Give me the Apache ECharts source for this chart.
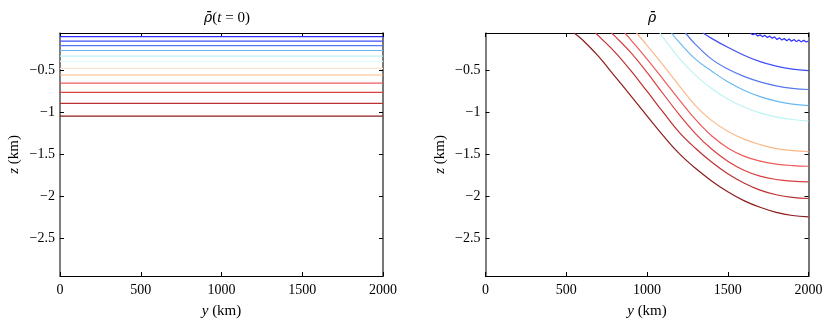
<!DOCTYPE html>
<html lang="en">

<head>
    <meta charset="UTF-8">
    <script src="https://cdn.jsdelivr.net/npm/echarts@6/dist/echarts.min.js"></script>
    <title>rho</title>
</head>

<body style="margin:0">
    <div id="main" style="height: 324px;width: 830px;"></div>

    <script>
        // tick labels
        var yTicks = [0, 500, 1000, 1500, 2000];
        var zTicks = [-2.5, -2, -1.5, -1, -0.5];

        // left panel: initial isopycnal depths (km)
        var levels0 = [-0.094, -0.146, -0.200, -0.259, -0.327, -0.389, -0.472, -0.551, -0.649, -0.759, -0.889, -1.042];

        // colours, top (light) to bottom (dense)
        var colors = ['#2f2fff', '#3f4ff5', '#5577f0', '#6ab8f0', '#bdf3f3', '#e6f9f9',
            '#fbe4d4', '#fbb98a', '#ee5a5a', '#d94040', '#bb3030', '#8c1d1d'];

        // right panel: [y (km), z (km)]
        var blue1 = [[1640, -0.052], [1655, -0.070], [1670, -0.058], [1685, -0.086], [1700, -0.072], [1715, -0.095],
            [1730, -0.078], [1745, -0.103], [1760, -0.087], [1775, -0.112], [1790, -0.096], [1805, -0.128],
            [1820, -0.108], [1835, -0.134], [1850, -0.115], [1865, -0.142], [1880, -0.122], [1895, -0.148],
            [1910, -0.128], [1925, -0.153], [1940, -0.133], [1955, -0.156], [1970, -0.136], [1985, -0.157], [2000, -0.145]];
        var blue2 = [[1347, -0.05], [1400, -0.114], [1500, -0.221], [1600, -0.315], [1700, -0.392], [1800, -0.445], [1900, -0.481], [2000, -0.498]];
        var blue3 = [[1238, -0.05], [1300, -0.185], [1400, -0.362], [1500, -0.480], [1600, -0.568], [1700, -0.633], [1800, -0.680], [1900, -0.710], [2000, -0.724]];
        var lightBlue = [[1152, -0.05], [1200, -0.162], [1300, -0.362], [1400, -0.504], [1500, -0.633], [1600, -0.734], [1700, -0.810], [1800, -0.863], [1900, -0.899], [2000, -0.916]];
        var paleCyan = [[1080, -0.05], [1100, -0.103], [1200, -0.353], [1300, -0.553], [1400, -0.713], [1500, -0.838], [1600, -0.933], [1700, -1.003], [1800, -1.05], [1900, -1.082], [2000, -1.101]];
        var orange = [[935, -0.05], [1000, -0.197], [1100, -0.433], [1200, -0.680], [1300, -0.916], [1400, -1.093], [1500, -1.223], [1600, -1.317], [1700, -1.382], [1800, -1.429], [1900, -1.453], [2000, -1.465]];
        var red1 = [[863, -0.05], [900, -0.132], [1000, -0.362], [1100, -0.602], [1200, -0.847], [1300, -1.082], [1400, -1.277], [1500, -1.422], [1600, -1.519], [1700, -1.579], [1800, -1.614], [1900, -1.632], [2000, -1.64]];
        var red2 = [[781, -0.05], [800, -0.085], [900, -0.285], [1000, -0.52], [1100, -0.775], [1200, -1.025], [1300, -1.25], [1400, -1.435], [1500, -1.58], [1600, -1.688], [1700, -1.758], [1800, -1.798], [1900, -1.818], [2000, -1.826]];
        var red3 = [[682, -0.05], [700, -0.085], [800, -0.275], [900, -0.50], [1000, -0.745], [1100, -0.995], [1200, -1.235], [1300, -1.425], [1400, -1.59], [1500, -1.73], [1600, -1.84], [1700, -1.925], [1800, -1.98], [1900, -2.012], [2000, -2.025]];
        var red4 = [[548, -0.05], [600, -0.13], [700, -0.33], [800, -0.565], [900, -0.80], [1000, -1.04], [1100, -1.275], [1200, -1.49], [1300, -1.665], [1400, -1.815], [1500, -1.945], [1600, -2.05], [1700, -2.13], [1800, -2.19], [1900, -2.228], [2000, -2.245]];

        var curves = [
            { data: blue1, color: colors[0], smooth: false },
            { data: blue2, color: colors[1] },
            { data: blue3, color: colors[2] },
            { data: lightBlue, color: colors[3] },
            { data: paleCyan, color: colors[4] },
            { data: orange, color: colors[7] },
            { data: red1, color: colors[8] },
            { data: red2, color: colors[9] },
            { data: red3, color: colors[10] },
            { data: red4, color: colors[11] }
        ];

        var font = 'Liberation Serif';
        var minus = function (v) { return String(v).replace('-', '\u2212'); };
        var plain = function (v) { return String(v); };
        var italic = { fontStyle: 'italic', fontFamily: font, fontSize: 15, color: '#000' };

        function xAxes(gi) {
            return [{
                gridIndex: gi, type: 'value', min: 0, max: 2000, interval: 500, position: 'bottom',
                axisLine: { onZero: false, lineStyle: { color: '#000', width: 1 } },
                axisTick: { inside: true, length: 4, lineStyle: { color: '#000' } },
                axisLabel: { color: '#000', fontFamily: font, fontSize: 14, margin: 7, formatter: plain },
                splitLine: { show: false },
                name: '{i|y} (km)', nameLocation: 'middle', nameGap: 28,
                nameTextStyle: { color: '#000', fontFamily: font, fontSize: 15, rich: { i: italic } }
            }, {
                gridIndex: gi, type: 'value', min: 0, max: 2000, interval: 500, position: 'top',
                axisLine: { onZero: false, lineStyle: { color: '#000', width: 1 } },
                axisTick: { inside: true, length: 4, lineStyle: { color: '#000' } },
                axisLabel: { show: false }, splitLine: { show: false }
            }];
        }

        function yAxes(gi) {
            return [{
                gridIndex: gi, type: 'value', min: -2.95, max: -0.05, position: 'left',
                axisLine: { onZero: false, lineStyle: { color: '#555', width: 1.5 } },
                axisTick: { inside: true, length: 4, customValues: zTicks, lineStyle: { color: '#000' } },
                axisLabel: { color: '#000', fontFamily: font, fontSize: 14, margin: 5, customValues: zTicks, formatter: minus },
                splitLine: { show: false },
                name: '{i|z} (km)', nameLocation: 'middle', nameGap: 38, nameRotate: 90,
                nameTextStyle: { color: '#000', fontFamily: font, fontSize: 15, rich: { i: italic } }
            }, {
                gridIndex: gi, type: 'value', min: -2.95, max: -0.05, position: 'right',
                axisLine: { onZero: false, lineStyle: { color: '#777', width: 2 } },
                axisTick: { inside: true, length: 4, customValues: zTicks, lineStyle: { color: '#000' } },
                axisLabel: { show: false }, splitLine: { show: false }
            }];
        }

        var series = [];
        levels0.forEach(function (z, i) {
            series.push({
                type: 'line', xAxisIndex: 0, yAxisIndex: 0, showSymbol: false, silent: true,
                data: [[yTicks[0], z], [yTicks[yTicks.length - 1], z]],
                lineStyle: { color: colors[i], width: 1.2 }
            });
        });
        curves.forEach(function (c) {
            series.push({
                type: 'line', xAxisIndex: 2, yAxisIndex: 2, showSymbol: false, silent: true,
                smooth: c.smooth === false ? false : 0.4,
                data: c.data,
                lineStyle: { color: c.color, width: 1.2 }
            });
        });

        var chartDom = document.getElementById('main');
        var myChart = echarts.init(chartDom);
        var rho = { fontStyle: 'italic', fontFamily: 'DejaVu Serif', fontSize: 14, color: '#000' };
        var titleStyle = {
            color: '#000', fontFamily: font, fontSize: 15, fontWeight: 'normal',
            rich: { r: rho, i: italic }
        };
        var option = {
            animation: false,
            title: [
                { text: '{r|\u03c1\u0304}({i|t} = 0)', left: 222, top: 6, textAlign: 'center', textStyle: titleStyle },
                { text: '{r|\u03c1\u0304}', left: 647, top: 6, textAlign: 'center', textStyle: titleStyle }
            ],
            grid: [
                { left: 60, right: 447, top: 33, bottom: 46 },
                { left: 485.5, right: 21.5, top: 33, bottom: 46 }
            ],
            xAxis: xAxes(0).concat(xAxes(1)),
            yAxis: yAxes(0).concat(yAxes(1)),
            series: series
        };
        myChart.setOption(option);

    </script>
</body>

</html>
